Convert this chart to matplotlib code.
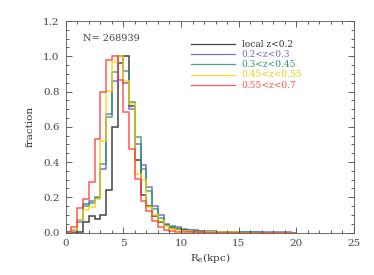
import numpy as np
import matplotlib
matplotlib.use('Agg')
import matplotlib.pyplot as plt
from matplotlib.ticker import MultipleLocator

# bin edges 0..20 kpc, 0.5 kpc wide
edges = np.arange(0, 20.01, 0.5)

labels = ['local z<0.2', '0.2<z<0.3', '0.3<z<0.45', '0.45<z<0.55', '0.55<z<0.7']
colors = ['#222222', '#5a5ac0', '#2e9470', '#ffd400', '#ff3b3b']
text_colors = ['#333333', '#6c6cd0', '#2e9470', '#f2cc00', '#ff4c4c']

local = [0, 0, 0.005, 0.06, 0.093, 0.078, 0.097, 0.24, 0.60, 0.96,
         1.0, 0.72, 0.41, 0.214, 0.15, 0.093, 0.06, 0.045, 0.025, 0.02,
         0.013, 0.01, 0.007, 0.005, 0.004, 0.003, 0.002, 0.002, 0.001, 0.001,
         0, 0, 0, 0, 0, 0, 0, 0, 0, 0]
z02_03 = [0.003, 0.01, 0.06, 0.16, 0.18, 0.195, 0.36, 0.675, 0.86, 1.0,
          0.85, 0.70, 0.50, 0.385, 0.26, 0.153, 0.097, 0.05, 0.035, 0.03,
          0.02, 0.016, 0.012, 0.01, 0.008, 0.006, 0.005, 0.004, 0.003, 0.003,
          0.002, 0.002, 0.002, 0.002, 0.001, 0.001, 0.001, 0.001, 0.001, 0]
z03_045 = [0.003, 0.012, 0.07, 0.15, 0.17, 0.20, 0.39, 0.655, 0.91, 1.0,
           0.917, 0.74, 0.54, 0.36, 0.235, 0.135, 0.085, 0.045, 0.03, 0.022,
           0.015, 0.012, 0.009, 0.007, 0.005, 0.004, 0.003, 0.003, 0.002, 0.002,
           0.001, 0.001, 0.001, 0.001, 0, 0, 0, 0, 0, 0]
z045_055 = [0, 0.015, 0.07, 0.125, 0.145, 0.19, 0.52, 0.805, 0.97, 1.0,
            0.86, 0.73, 0.33, 0.30, 0.144, 0.10, 0.063, 0.035, 0.02, 0.012,
            0.009, 0.007, 0.005, 0.004, 0.003, 0.002, 0.002, 0.001, 0.001, 0.001,
            0, 0, 0, 0, 0, 0, 0, 0, 0, 0]
z055_07 = [0.005, 0.03, 0.14, 0.19, 0.286, 0.53, 0.795, 0.98, 1.0, 0.865,
           0.685, 0.475, 0.305, 0.18, 0.12, 0.068, 0.034, 0.015, 0.008, 0.005,
           0.003, 0.002, 0.001, 0.001, 0, 0, 0, 0, 0, 0,
           0, 0, 0, 0, 0, 0, 0, 0, 0, 0]
series = [local, z02_03, z03_045, z045_055, z055_07]
n_total = 268939

plt.rcParams['font.family'] = 'DejaVu Serif'
fig = plt.figure(figsize=(3.74, 2.75), dpi=100)
ax = fig.add_axes([0.1757, 0.1545, 0.7708, 0.769])

for vals, c in zip(series, colors):
    ax.stairs(vals, edges, baseline=None, color=c, lw=1.1, alpha=0.85)

ax.set_xlim(0, 25)
ax.set_ylim(0, 1.2)
ax.xaxis.set_major_locator(MultipleLocator(5))
ax.xaxis.set_minor_locator(MultipleLocator(1))
ax.yaxis.set_major_locator(MultipleLocator(0.2))
ax.yaxis.set_minor_locator(MultipleLocator(0.05))
ax.yaxis.set_major_formatter(plt.FormatStrFormatter('%.1f'))
ax.tick_params(which='both', direction='in', top=True, right=True,
               labelsize=7.5, colors='#444444', width=0.6)
ax.tick_params(which='major', length=4.5, pad=4.5)
ax.tick_params(which='minor', length=2.2)
for s in ax.spines.values():
    s.set_linewidth(0.6)
    s.set_color('#555555')

ax.set_xlabel('R$_\\mathregular{e}$(kpc)', fontsize=7.5, color='#333333', labelpad=2)
ax.set_ylabel('fraction', fontsize=7.5, color='#333333', labelpad=6)

ax.text(0.059, 0.918, 'N= ' + str(n_total), transform=ax.transAxes,
        fontsize=7, color='#444444', va='center', ha='left')

rows = [0.890, 0.8426, 0.795, 0.745, 0.697]
for lab, c, tc, yy in zip(labels, colors, text_colors, rows):
    ax.plot([0.4346, 0.587], [yy, yy], transform=ax.transAxes, color=c, lw=0.9, alpha=0.85)
    ax.text(0.610, yy, lab, transform=ax.transAxes, fontsize=6.5, color=tc,
            va='center', ha='left')

fig.savefig('out.png', dpi=100)
